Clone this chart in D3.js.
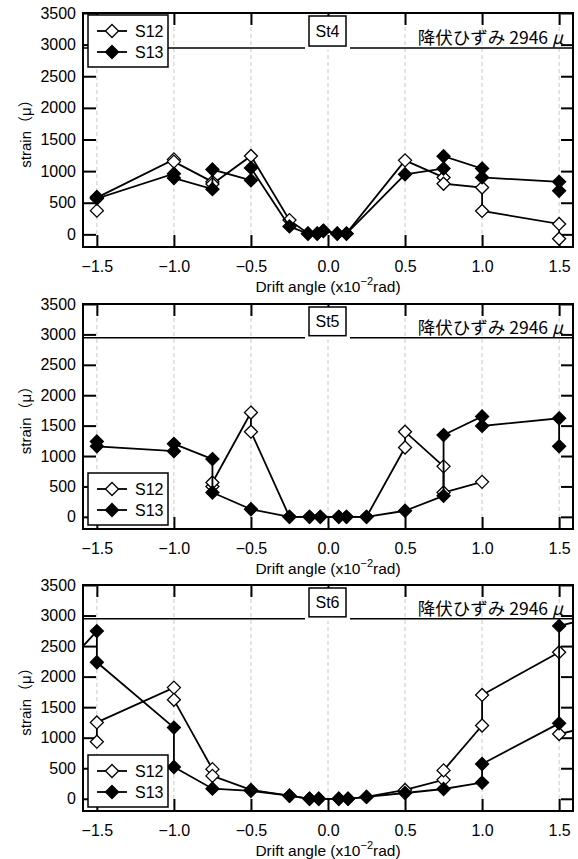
<!DOCTYPE html>
<html><head><meta charset="utf-8">
<script src="https://cdn.jsdelivr.net/npm/d3@7"></script>
<style>body{margin:0;background:#fff}</style>
</head><body><svg id="c" width="578" height="859"></svg>
<script>
// ---- data ----
const xTicks = [-1.5, -1.0, -0.5, 0.0, 0.5, 1.0, 1.5];
const yTicks = [0, 500, 1000, 1500, 2000, 2500, 3000, 3500];
const yieldStrain = 2946;
const yieldLabel = "降伏ひずみ 2946 ";
const panelNames = ["St4", "St5", "St6"];
const seriesNames = ["S12", "S13"];

const st4S12 = [[-1.5,375],[-1.5,580],[-1.0,1185],[-1.0,1150],[-0.75,830],[-0.75,795],[-0.5,1240],[-0.25,225],[-0.13,15],[-0.07,15],[-0.03,50],[0.06,15],[0.12,15],[0.5,1170],[0.75,900],[0.75,800],[1.0,740],[1.0,370],[1.5,165],[1.5,-70]];
const st4S13 = [[-1.5,590],[-1.5,565],[-1.0,960],[-1.0,890],[-0.75,715],[-0.75,1025],[-0.5,855],[-0.5,1050],[-0.25,125],[-0.13,10],[-0.07,10],[-0.03,60],[0.06,10],[0.12,10],[0.5,950],[0.75,1040],[0.75,1235],[1.0,1040],[1.0,900],[1.5,830],[1.5,690]];

const st5S12 = [[-0.75,500],[-0.75,565],[-0.5,1715],[-0.5,1400],[-0.25,0],[-0.12,0],[-0.05,0],[0.07,0],[0.12,0],[0.25,0],[0.5,1140],[0.5,1400],[0.75,830],[0.75,400],[1.0,575]];
const st5S13 = [[-1.5,1240],[-1.5,1160],[-1.0,1080],[-1.0,1200],[-0.75,950],[-0.75,400],[-0.5,125],[-0.25,0],[-0.12,0],[-0.05,0],[0.07,0],[0.12,0],[0.25,0],[0.5,100],[0.75,345],[0.75,1345],[1.0,1650],[1.0,1495],[1.5,1620],[1.5,1160]];

const st6S12 = [[-1.5,935],[-1.5,1250],[-1.0,1820],[-1.0,1620],[-0.75,485],[-0.75,375],[-0.5,145],[-0.25,50],[-0.12,0],[-0.06,0],[0.07,0],[0.13,0],[0.25,30],[0.5,145],[0.75,310],[0.75,465],[1.0,1200],[1.0,1700],[1.5,2400],[1.5,1060],[2.0,1360]];
const st6S13 = [[-2.0,1385],[-1.5,2745],[-1.5,2235],[-1.0,1165],[-1.0,520],[-0.75,165],[-0.5,130],[-0.25,50],[-0.12,0],[-0.06,0],[0.07,0],[0.13,0],[0.25,30],[0.5,95],[0.75,160],[1.0,265],[1.0,570],[1.5,1235],[1.5,2830],[2.0,3140]];

const panelSeries = [[st4S12, st4S13], [st5S12, st5S13], [st6S12, st6S13]];

// ---- layout ----
const svg = d3.select("#c");
const X0 = 83, X1 = 573;
const panels = [
  {top: 13,  bottom: 247, legend: "top"},
  {top: 304, bottom: 529, legend: "bottom"},
  {top: 585, bottom: 811, legend: "bottom"}
];
const numFont = "'Liberation Sans', Arial, 'Noto Sans CJK JP', sans-serif";
const jpFont = "'Noto Sans CJK JP', 'Liberation Sans', sans-serif";
const R = 6.5;
const diamond = `M0,${-R}L${R},0L0,${R}L${-R},0Z`;
const x = d3.scaleLinear().domain([-1.59, 1.59]).range([X0, X1]);

panels.forEach((p, pi) => {
  const y = d3.scaleLinear().domain([-200, 3500]).range([p.bottom, p.top]);
  const g = svg.append("g");
  const clipId = "clip" + pi;
  svg.append("clipPath").attr("id", clipId).append("rect")
    .attr("x", X0).attr("y", p.top).attr("width", X1 - X0).attr("height", p.bottom - p.top);

  // dashed grid
  g.selectAll(".grid").data(xTicks).enter().append("line")
    .attr("x1", d => x(d)).attr("x2", d => x(d))
    .attr("y1", p.top).attr("y2", p.bottom)
    .attr("stroke", "#c8c8c8").attr("stroke-width", 1).attr("stroke-dasharray", "4,3");

  // yield line
  const yy = y(yieldStrain);
  g.append("line").attr("x1", X0).attr("x2", X1).attr("y1", yy).attr("y2", yy)
    .attr("stroke", "#000").attr("stroke-width", 1.5);

  // axes (ticks inside)
  const fmt = d3.format(".1f");
  const ax = g.append("g").attr("transform", `translate(0,${p.bottom})`)
    .call(d3.axisBottom(x).tickValues(xTicks).tickFormat(fmt).tickSizeInner(-12).tickSizeOuter(0).tickPadding(14));
  const axT = g.append("g").attr("transform", `translate(0,${p.top})`)
    .call(d3.axisTop(x).tickValues(xTicks).tickFormat("").tickSizeInner(-12).tickSizeOuter(0));
  const ayL = g.append("g").attr("transform", `translate(${X0},0)`)
    .call(d3.axisLeft(y).tickValues(yTicks).tickFormat(d3.format("d")).tickSizeInner(-13).tickSizeOuter(0).tickPadding(7));
  const ayR = g.append("g").attr("transform", `translate(${X1},0)`)
    .call(d3.axisRight(y).tickValues(yTicks).tickFormat("").tickSizeInner(-12).tickSizeOuter(0));
  [ax, axT, ayL, ayR].forEach(a => {
    a.select(".domain").remove();
    a.selectAll(".tick line").attr("stroke", "#000").attr("stroke-width", 2);
    a.selectAll("text").attr("font-family", numFont).attr("font-size", 16).attr("fill", "#000");
  });

  // series
  const line = d3.line().x(d => x(d[0])).y(d => y(d[1]));
  const dg = g.append("g").attr("clip-path", `url(#${clipId})`);
  panelSeries[pi].forEach((data, si) => {
    dg.append("path").datum(data).attr("d", line)
      .attr("fill", "none").attr("stroke", "#000").attr("stroke-width", 1.8);
    dg.selectAll(".m" + si).data(data).enter().append("path")
      .attr("d", diamond)
      .attr("transform", d => `translate(${x(d[0])},${y(d[1])})`)
      .attr("fill", si === 0 ? "#fff" : "#000")
      .attr("stroke", "#000").attr("stroke-width", 1.3);
  });

  // St label box
  const bx = 309, bw = 37, bTop = p.top + 3, bBot = yy - 2;
  g.append("rect").attr("x", bx - 4).attr("y", bTop).attr("width", bw + 8).attr("height", bBot - bTop + 4)
    .attr("fill", "#fff");
  g.append("rect").attr("x", bx).attr("y", bTop).attr("width", bw).attr("height", bBot - bTop)
    .attr("fill", "#fff").attr("stroke", "#000").attr("stroke-width", 1.5);
  g.append("text").attr("x", bx + bw / 2).attr("y", (bTop + bBot) / 2 + 6)
    .attr("text-anchor", "middle").attr("font-family", numFont).attr("font-size", 16)
    .text(panelNames[pi]);

  // yield label
  const yt = g.append("text").attr("x", 563).attr("y", yy - 4)
    .attr("text-anchor", "end").attr("font-family", jpFont).attr("font-size", 17.5);
  yt.append("tspan").text(yieldLabel);
  yt.append("tspan").attr("font-style", "italic").text("μ");

  // legend
  const lx = 88, lw = 80, lh = 52;
  const ly = p.legend === "top" ? 15 : p.bottom - 4 - lh;
  const lg = g.append("g");
  lg.append("rect").attr("x", lx).attr("y", ly).attr("width", lw).attr("height", lh)
    .attr("fill", "#fff").attr("stroke", "#000").attr("stroke-width", 1.5);
  seriesNames.forEach((nm, si) => {
    const cy = ly + 16 + si * 21;
    lg.append("line").attr("x1", lx + 9).attr("x2", lx + 39).attr("y1", cy).attr("y2", cy)
      .attr("stroke", "#000").attr("stroke-width", 1.8);
    lg.append("path").attr("d", diamond).attr("transform", `translate(${lx + 24},${cy})`)
      .attr("fill", si === 0 ? "#fff" : "#000").attr("stroke", "#000").attr("stroke-width", 1.3);
    lg.append("text").attr("x", lx + 47).attr("y", cy + 6).attr("font-family", numFont)
      .attr("font-size", 16).text(nm);
  });

  // frame
  g.append("rect").attr("x", X0).attr("y", p.top).attr("width", X1 - X0).attr("height", p.bottom - p.top)
    .attr("fill", "none").attr("stroke", "#000").attr("stroke-width", 2);

  // axis titles
  const xt = g.append("text").attr("x", (X0 + X1) / 2).attr("y", p.bottom + 45)
    .attr("text-anchor", "middle").attr("font-family", numFont).attr("font-size", 15.5);
  xt.append("tspan").text("Drift angle (x10");
  xt.append("tspan").attr("font-size", 11).attr("dy", -7).text("−2");
  xt.append("tspan").attr("dy", 7).text("rad)");

  g.append("text").attr("transform", `translate(31,${(p.top + p.bottom) / 2}) rotate(-90)`)
    .attr("text-anchor", "middle").attr("font-family", numFont).attr("font-size", 15)
    .text("strain（μ）");
});
</script></body></html>
